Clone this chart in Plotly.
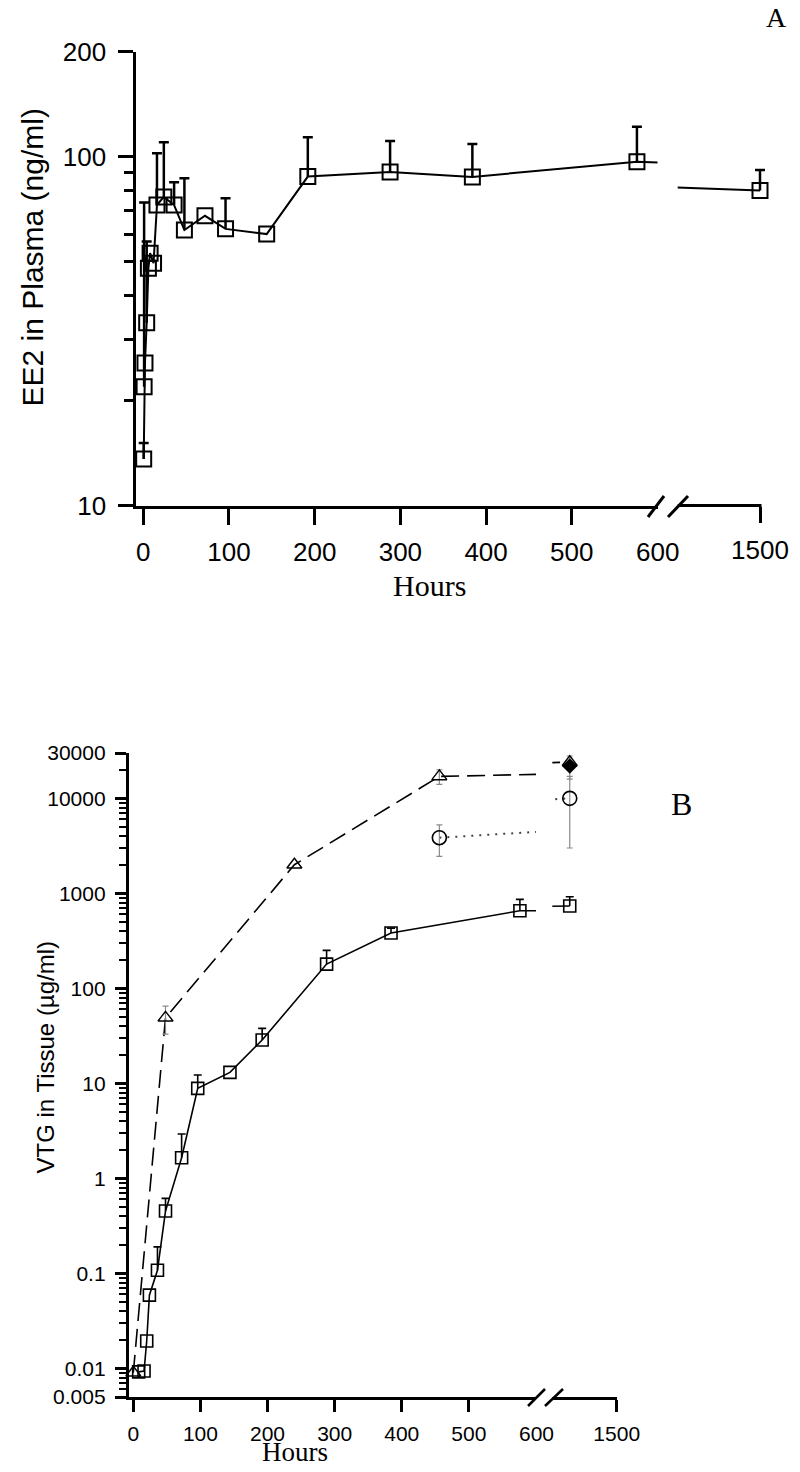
import math
import plotly.graph_objects as go

# ---------------- data ----------------
# Panel A: EE2 in plasma (ng/ml)
a_hours = [0.5, 1, 2, 4, 6, 8, 12, 16, 24, 36, 48, 72, 96, 144, 192, 288, 384, 576, 1500]
a_ee2 = [13.6, 21.9, 25.6, 33.4, 47.9, 52.9, 49.5, 72.7, 76.7, 72.7, 61.6, 67.7, 62.1, 60.0,
         87.7, 90.4, 87.5, 96.8, 80.0]
a_sd = [1.5, 52.0, None, 23.7, None, None, None, 29.6, 33.3, 11.8, 25.1, None, 13.9, None,
        26.0, 20.5, 21.2, 25.1, 11.6]

# Panel B: VTG in tissue (ug/ml)
b_sq_hours = [8, 16, 20, 24, 36, 48, 72, 96, 144, 192, 288, 384, 576, 1430]
b_sq_vtg = [0.0092, 0.0094, 0.0194, 0.059, 0.108, 0.453, 1.65, 8.86, 13.05, 28.6, 180, 383, 656, 735]
b_sq_sd = [None, None, None, None, 0.082, 0.163, 1.28, 3.4, None, 9.3, 71, 47, 209, 185]

b_tri_hours = [0, 48, 240, 456, 1430]
b_tri_vtg = [0.009, 49, 2000, 17000, 24000]
b_tri_sd = [None, 16, None, 3000, None]

b_cir_hours = [456, 1430]
b_cir_vtg = [3850, 10000]
b_cir_sd = [1400, 7000]

b_dia_hours = [1430]
b_dia_vtg = [21900]
b_dia_sd = [6000]

a_xticks = [0, 100, 200, 300, 400, 500]
b_xticks = [0, 100, 200, 300, 400, 500]
a_yticks = [10, 100, 200]
b_yticks = [0.005, 0.01, 0.1, 1, 10, 100, 1000, 10000, 30000]
b_yticktext = ["0.005", "0.01", "0.1", "1", "10", "100", "1000", "10000", "30000"]

# ---------------- layout helpers ----------------
W, H = 800, 1472
SANS = "Liberation Sans, Arial, sans-serif"
SERIF = "Liberation Serif, Times New Roman, serif"


def fx(p):
    return p / W


def fy(p):
    return 1 - p / H


def with_sd(xs, ys, sds):
    sx, sy, se = [], [], []
    for x, y, e in zip(xs, ys, sds):
        if e is not None:
            sx.append(x)
            sy.append(y)
            se.append(e)
    return sx, sy, se


def upper_bars(fig, xs, ys, sds, xa, ya, thick, cap):
    sx, sy, se = with_sd(xs, ys, sds)
    if not sx:
        return
    # vertical stem (no caps)
    fig.add_trace(go.Scatter(x=sx, y=sy, xaxis=xa, yaxis=ya, mode="markers",
                             marker=dict(size=1, color="rgba(0,0,0,0)"),
                             error_y=dict(type="data", array=se, arrayminus=[0] * len(se),
                                          symmetric=False, color="black", thickness=thick, width=0),
                             cliponaxis=False, hoverinfo="skip"))
    # cap at top
    tops = [y + e for y, e in zip(sy, se)]
    fig.add_trace(go.Scatter(x=sx, y=tops, xaxis=xa, yaxis=ya, mode="markers",
                             marker=dict(size=1, color="rgba(0,0,0,0)"),
                             error_y=dict(type="data", array=[0] * len(se), symmetric=True,
                                          color="black", thickness=thick, width=cap),
                             cliponaxis=False, hoverinfo="skip"))


def split(xs, ys, lo, hi):
    px_, py_ = [], []
    for x, y in zip(xs, ys):
        if lo <= x <= hi:
            px_.append(x)
            py_.append(y)
    return px_, py_


fig = go.Figure()

A_MAIN = (-8, 600)
A_SEG2 = (1404, 1512)
B_MAIN = (-7, 600)
B_SEG2 = (1404, 1500)

# ---------------- Panel A ----------------
for xa in ("x", "x2"):
    fig.add_trace(go.Scatter(x=a_hours, y=a_ee2, xaxis=xa, yaxis="y", mode="lines",
                             line=dict(color="black", width=2), hoverinfo="skip"))
for xa, rng in (("x", A_MAIN), ("x2", A_SEG2)):
    hx, hy = split(a_hours, a_ee2, *rng)
    hs = [s for h, s in zip(a_hours, a_sd) if rng[0] <= h <= rng[1]]
    upper_bars(fig, hx, hy, hs, xa, "y", 2.5, 5)
    fig.add_trace(go.Scatter(x=hx, y=hy, xaxis=xa, yaxis="y", mode="markers",
                             marker=dict(symbol="square-open", size=15, color="black",
                                         line=dict(width=2, color="black")),
                             cliponaxis=False))

# ---------------- Panel B ----------------
for xa in ("x3", "x4"):
    fig.add_trace(go.Scatter(x=b_sq_hours, y=b_sq_vtg, xaxis=xa, yaxis="y2", mode="lines",
                             line=dict(color="black", width=1.6), hoverinfo="skip"))
    fig.add_trace(go.Scatter(x=b_tri_hours, y=b_tri_vtg, xaxis=xa, yaxis="y2", mode="lines",
                             line=dict(color="black", width=1.6, dash="18px,8px"), hoverinfo="skip"))
    fig.add_trace(go.Scatter(x=b_cir_hours, y=b_cir_vtg, xaxis=xa, yaxis="y2", mode="lines",
                             line=dict(color="#444444", width=2, dash="2px,6px"), hoverinfo="skip"))

for xa, rng in (("x3", B_MAIN), ("x4", B_SEG2)):
    # grey symmetric error bars
    for hs, vs, ss in ((b_tri_hours, b_tri_vtg, b_tri_sd), (b_cir_hours, b_cir_vtg, b_cir_sd),
                       (b_dia_hours, b_dia_vtg, b_dia_sd)):
        sx, sy, se = with_sd(hs, vs, ss)
        keep = [i for i, x in enumerate(sx) if rng[0] <= x <= rng[1]]
        if keep:
            fig.add_trace(go.Scatter(x=[sx[i] for i in keep], y=[sy[i] for i in keep],
                                     xaxis=xa, yaxis="y2", mode="markers",
                                     marker=dict(size=1, color="rgba(0,0,0,0)"),
                                     error_y=dict(type="data", array=[se[i] for i in keep],
                                                  symmetric=True, color="#8a8a8a",
                                                  thickness=1.2, width=3),
                                     cliponaxis=False, hoverinfo="skip"))
    hx, hy = split(b_sq_hours, b_sq_vtg, *rng)
    hs = [s for h, s in zip(b_sq_hours, b_sq_sd) if rng[0] <= h <= rng[1]]
    upper_bars(fig, hx, hy, hs, xa, "y2", 1.6, 4)
    fig.add_trace(go.Scatter(x=hx, y=hy, xaxis=xa, yaxis="y2", mode="markers",
                             marker=dict(symbol="square-open", size=12, color="black",
                                         line=dict(width=1.6, color="black")),
                             cliponaxis=False))
    tx, ty = split(b_tri_hours, b_tri_vtg, *rng)
    fig.add_trace(go.Scatter(x=tx, y=ty, xaxis=xa, yaxis="y2", mode="markers",
                             marker=dict(symbol="triangle-up-open", size=13, color="black",
                                         line=dict(width=1.4, color="black")),
                             cliponaxis=False))
    cx, cy = split(b_cir_hours, b_cir_vtg, *rng)
    fig.add_trace(go.Scatter(x=cx, y=cy, xaxis=xa, yaxis="y2", mode="markers",
                             marker=dict(symbol="circle-open", size=14, color="black",
                                         line=dict(width=1.6, color="black")),
                             cliponaxis=False))
    dx, dy = split(b_dia_hours, b_dia_vtg, *rng)
    if dx:
        fig.add_trace(go.Scatter(x=dx, y=dy, xaxis=xa, yaxis="y2", mode="markers",
                                 marker=dict(symbol="diamond", size=12, color="black"),
                                 cliponaxis=False))

# ---------------- axes ----------------
ax_common = dict(showgrid=False, zeroline=False, showline=True, linecolor="black",
                 ticks="outside", tickcolor="black", automargin=False)

minor_a = [k * 10 for k in range(2, 10)]
minor_b = []
for e in range(-3, 5):
    for k in range(2, 10):
        v = k * 10 ** e
        if 0.005 <= v <= 30000 and v not in (0.005, 30000):
            minor_b.append(v)

FA = dict(family=SANS, size=26, color="black")
FB = dict(family=SANS, size=21, color="black")

# segment-2 axis of panel A extends a little past 1500 so the last error cap is not clipped;
# its axis line is drawn as a shape that stops at the 1500 tick
A2_LEFT, A2_1500 = 677.7, 760.0
a2_right = A2_1500 + (A_SEG2[1] - 1500) * (A2_1500 - A2_LEFT) / (1500 - A_SEG2[0])

fig.update_layout(
    width=W, height=H, margin=dict(l=0, r=0, t=0, b=0, pad=0, autoexpand=False),
    paper_bgcolor="white", plot_bgcolor="white", showlegend=False,
    xaxis=dict(**ax_common, domain=[fx(136.4), fx(657.5)], range=list(A_MAIN), anchor="y",
               linewidth=3, ticklen=16, tickwidth=3, tickvals=a_xticks,
               tickfont=FA, ticklabelstandoff=5),
    xaxis2=dict(**{**ax_common, "showline": False}, domain=[fx(A2_LEFT), fx(a2_right)],
                range=list(A_SEG2), anchor="y",
                ticklen=16, tickwidth=3, tickvals=[1500],
                tickfont=FA, ticklabelstandoff=5),
    yaxis=dict(**ax_common, domain=[fy(505.5), fy(51.7)], type="log",
               range=[1, math.log10(200)], anchor="x", linewidth=3, ticklen=15, tickwidth=3,
               tickvals=a_yticks, ticktext=[str(v) for v in a_yticks],
               tickfont=FA, ticklabelstandoff=7,
               minor=dict(tickvals=minor_a, ticklen=9, tickwidth=3, tickcolor="black",
                          ticks="outside")),
    xaxis3=dict(**ax_common, domain=[fx(128.6), fx(536)], range=list(B_MAIN), anchor="y2",
                linewidth=2.5, ticklen=12, tickwidth=2.5, tickvals=b_xticks,
                tickfont=FB, ticklabelstandoff=4),
    xaxis4=dict(**ax_common, domain=[fx(552.3), fx(616.7)], range=list(B_SEG2), anchor="y2",
                linewidth=2.5, ticklen=12, tickwidth=2.5, tickvals=[1500],
                tickfont=FB, ticklabelstandoff=4),
    yaxis2=dict(**ax_common, domain=[fy(1397), fy(753)], type="log",
                range=[math.log10(0.005), math.log10(30000)], anchor="x3",
                linewidth=2.5, ticklen=11, tickwidth=2.5,
                tickvals=b_yticks, ticktext=b_yticktext,
                tickfont=FB, ticklabelstandoff=5,
                minor=dict(tickvals=minor_b, ticklen=7, tickwidth=2, tickcolor="black",
                           ticks="outside")),
)

# ---------------- annotations ----------------
ann = []
ann.append(dict(text="600", x=600, xref="x", y=fy(552), yref="paper", showarrow=False,
                font=FA, xanchor="center", yanchor="middle"))
ann.append(dict(text="600", x=600, xref="x3", y=fy(1433), yref="paper", showarrow=False,
                font=FB, xanchor="center", yanchor="middle"))
ann.append(dict(text="Hours", x=fx(429), y=fy(585), xref="paper", yref="paper", showarrow=False,
                font=dict(family=SERIF, size=30, color="black"), xanchor="center", yanchor="middle"))
ann.append(dict(text="Hours", x=fx(295), y=fy(1452), xref="paper", yref="paper", showarrow=False,
                font=dict(family=SERIF, size=27, color="black"), xanchor="center", yanchor="middle"))
ann.append(dict(text="EE2 in Plasma (ng/ml)", x=fx(31.5), y=fy(258), xref="paper", yref="paper",
                showarrow=False, textangle=-90,
                font=dict(family=SANS, size=30, color="black"), xanchor="center", yanchor="middle"))
ann.append(dict(text="VTG in Tissue (µg/ml)", x=fx(44.5), y=fy(1057), xref="paper", yref="paper",
                showarrow=False, textangle=-90,
                font=dict(family=SANS, size=24, color="black"), xanchor="center", yanchor="middle"))
ann.append(dict(text="A", x=fx(776), y=fy(18), xref="paper", yref="paper", showarrow=False,
                font=dict(family=SERIF, size=28, color="black"), xanchor="center", yanchor="middle"))
ann.append(dict(text="B", x=fx(681), y=fy(804), xref="paper", yref="paper", showarrow=False,
                font=dict(family=SERIF, size=32, color="black"), xanchor="center", yanchor="middle"))
fig.update_layout(annotations=ann)

# ---------------- axis break marks and segment-2 axis line ----------------
shapes = []
for (x0, y0, x1, y1, w) in [(648, 517, 664, 496, 3), (668, 517, 688, 496, 3),
                            (528, 1406, 545, 1389, 2.5), (545, 1406, 563, 1389, 2.5),
                            (A2_LEFT, 505.5, A2_1500 + 1.5, 505.5, 3)]:
    shapes.append(dict(type="line", xref="paper", yref="paper", x0=fx(x0), y0=fy(y0),
                       x1=fx(x1), y1=fy(y1), line=dict(color="black", width=w)))
fig.update_layout(shapes=shapes)

fig.write_html("out.html", config={"displayModeBar": False},
               post_script="document.body.style.margin='0px';document.body.style.overflow='hidden';")
